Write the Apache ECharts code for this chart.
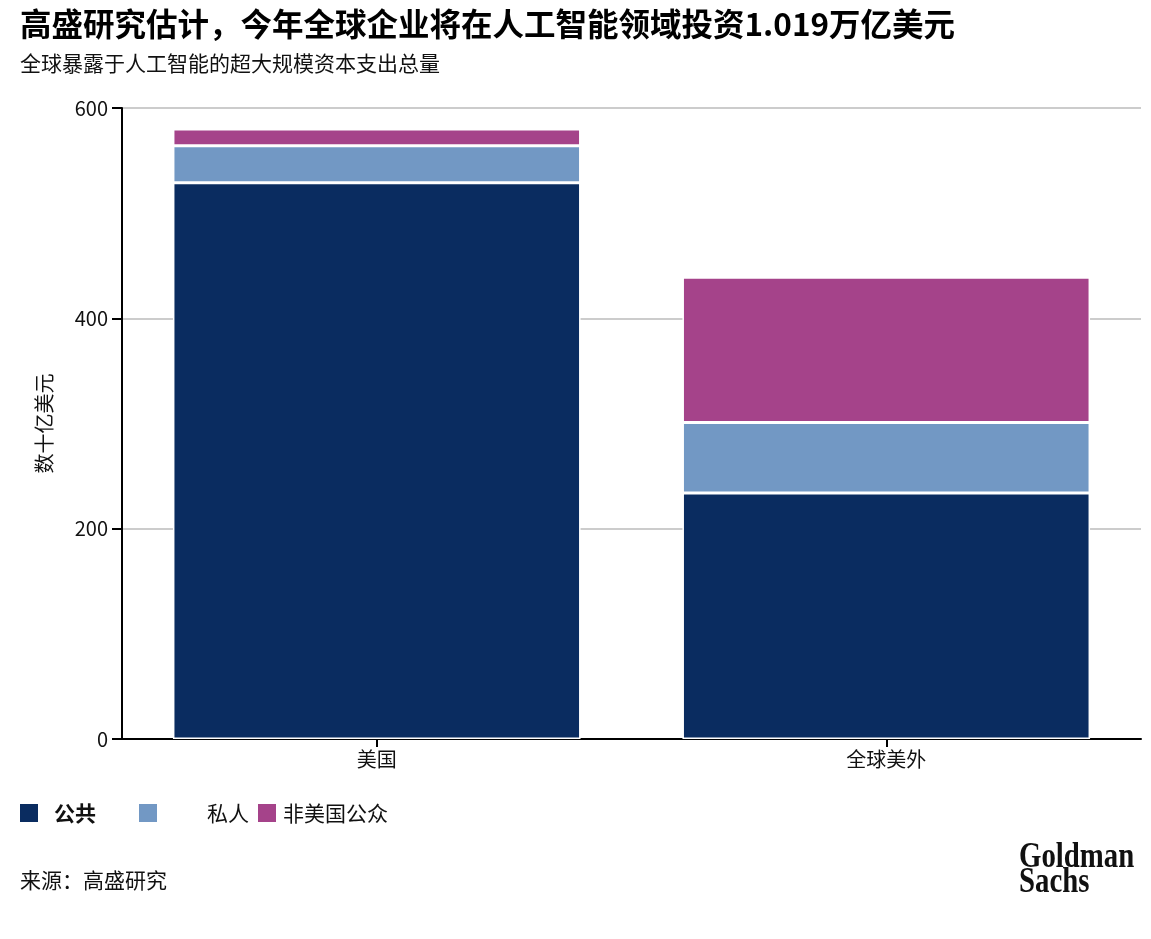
<!DOCTYPE html>
<html>
<head>
<meta charset="utf-8">
<script src="https://cdn.jsdelivr.net/npm/echarts@6/dist/echarts.min.js"></script>
<style>
  html, body { margin: 0; padding: 0; background: #fff; }
  #main { width: 1151px; height: 939px; }
</style>
</head>
<body>
<div id="main"></div>
<script>
var FONT = '"Noto Sans CJK SC", "Noto Sans", sans-serif';

// data, 数十亿美元
var categories = ['美国', '全球美外'];
var seriesNames = ['公共', '私人', '非美国公众'];
var publicVals = [529, 234];
var privateVals = [35, 67];
var nonUsPublicVals = [16, 138];
var yTicks = [0, 200, 400, 600];

var colors = ['#0a2c60', '#7298c4', '#a5438a'];

var chart = echarts.init(document.getElementById('main'));

function barSeries(name, data, color) {
    return {
        name: name,
        type: 'bar',
        stack: 'total',
        barWidth: '80%',
        data: data,
        itemStyle: {
            color: color,
            borderColor: '#ffffff',
            borderWidth: 1.5
        },
        emphasis: { disabled: true }
    };
}

function legendItem(name, left, textPad, bold) {
    return {
        left: left,
        top: 802,
        padding: 0,
        itemWidth: 20,
        itemHeight: 20,
        icon: 'rect',
        selectedMode: false,
        data: [name],
        textStyle: {
            fontFamily: FONT,
            fontSize: 21,
            color: '#111',
            fontWeight: bold ? 'bold' : 'normal',
            padding: [0, 0, 0, textPad]
        }
    };
}

var option = {
    animation: false,
    color: colors,
    title: [{
        text: '高盛研究估计，今年全球企业将在人工智能领域投资1.019万亿美元',
        left: 15,
        top: 3,
        textStyle: { fontFamily: FONT, fontSize: 31.5, fontWeight: 'bold', color: '#000' }
    }, {
        text: '全球暴露于人工智能的超大规模资本支出总量',
        left: 15,
        top: 48,
        textStyle: { fontFamily: FONT, fontSize: 21, fontWeight: 'normal', color: '#111' }
    }, {
        text: '来源：高盛研究',
        left: 15,
        top: 865,
        textStyle: { fontFamily: FONT, fontSize: 21, fontWeight: 'normal', color: '#111' }
    }],
    legend: [
        legendItem('公共', 18, 10, true),
        legendItem('私人', 137, 44, false),
        legendItem('非美国公众', 256, 1, false)
    ],
    grid: {
        left: 122,
        right: 10,
        top: 108,
        bottom: 200,
        containLabel: false
    },
    xAxis: {
        type: 'category',
        data: categories,
        axisLine: { lineStyle: { color: '#000', width: 2 } },
        axisTick: { show: true, alignWithLabel: true, length: 8, lineStyle: { color: '#000', width: 2 } },
        axisLabel: { fontFamily: FONT, fontSize: 20, color: '#111', margin: 10 }
    },
    yAxis: {
        type: 'value',
        min: yTicks[0],
        max: yTicks[yTicks.length - 1],
        interval: 200,
        name: '数十亿美元',
        nameLocation: 'middle',
        nameGap: 68,
        nameTextStyle: { fontFamily: FONT, fontSize: 20, color: '#111' },
        axisLine: { show: true, lineStyle: { color: '#000', width: 2 } },
        axisTick: { show: true, length: 10, lineStyle: { color: '#000', width: 2 } },
        axisLabel: { fontFamily: FONT, fontSize: 20, color: '#111', margin: 14 },
        splitLine: { show: true, lineStyle: { color: '#cccccc', width: 2 } }
    },
    series: [
        barSeries(seriesNames[0], publicVals, colors[0]),
        barSeries(seriesNames[1], privateVals, colors[1]),
        barSeries(seriesNames[2], nonUsPublicVals, colors[2])
    ],
    graphic: [{
        type: 'text',
        left: 1019,
        top: 840,
        scaleX: 0.8,
        style: {
            text: 'Goldman',
            fontFamily: '"Liberation Serif", serif',
            fontWeight: 'bold',
            fontSize: 36,
            fill: '#111'
        }
    }, {
        type: 'text',
        left: 1019,
        top: 865,
        scaleX: 0.8,
        style: {
            text: 'Sachs',
            fontFamily: '"Liberation Serif", serif',
            fontWeight: 'bold',
            fontSize: 36,
            fill: '#111'
        }
    }]
};

chart.setOption(option);
</script>
</body>
</html>
